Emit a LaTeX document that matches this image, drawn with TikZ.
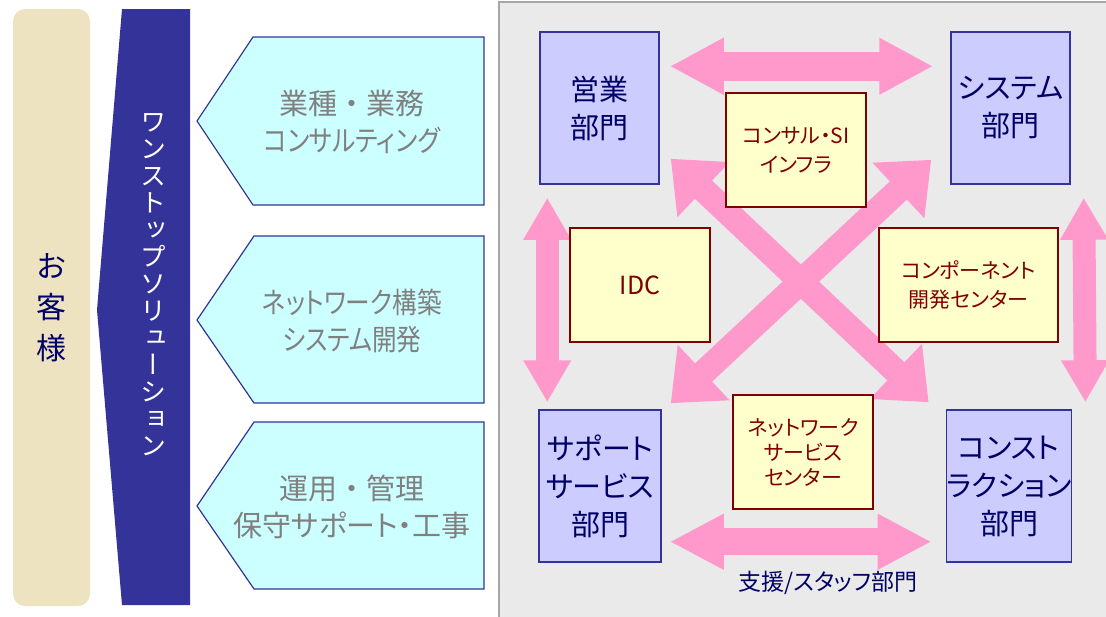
\documentclass[tikz,border=0pt]{standalone}
\usepackage{fontspec}
\setmainfont[RawFeature=+palt]{Noto Sans CJK JP}
\newfontfamily\vertfont[RawFeature=+vert]{Noto Sans CJK JP}
\newfontfamily\widefont{Noto Sans CJK JP}
\newfontfamily\narrowfont[RawFeature=+palt, FakeStretch=0.85]{Noto Sans CJK JP}
\usetikzlibrary{arrows.meta, calc}

\definecolor{beige}{HTML}{EEE3C1}
\definecolor{navy}{HTML}{333399}
\definecolor{svcfill}{HTML}{CCFFFF}
\definecolor{svctext}{HTML}{808080}
\definecolor{panelfill}{HTML}{EAEAEA}
\definecolor{panelline}{HTML}{A6A6A6}
\definecolor{deptfill}{HTML}{CCCCFF}
\definecolor{depttext}{HTML}{000066}
\definecolor{unitfill}{HTML}{FFFFCC}
\definecolor{unitline}{HTML}{800000}
\definecolor{pinkc}{HTML}{FF99CC}

\pgfdeclarelayer{panel}
\pgfdeclarelayer{arrows}
\pgfsetlayers{panel,arrows,main}

\begin{document}
\begin{tikzpicture}[
    x=1pt, y=-1pt,
    customer/.style={rectangle, rounded corners=12pt, fill=beige, minimum width=77pt, minimum height=597pt, inner sep=0pt, align=center, text=depttext, font=\fontsize{30}{41}\selectfont},
    soltext/.style={align=center, text=white, inner sep=0pt, font=\vertfont\fontsize{26}{27}\selectfont},
    service/.style={draw=navy, fill=svcfill, line width=1.2pt},
    servicetext/.style={align=center, text=svctext, font=\fontsize{29}{37}\selectfont},
    dept/.style={rectangle, draw=navy, fill=deptfill, line width=1.5pt, minimum width=119pt, minimum height=152pt, inner sep=0pt, align=center, text=depttext, font=\fontsize{29}{38}\selectfont},
    unitbox/.style={rectangle, draw=unitline, fill=unitfill, line width=1.5pt, minimum width=140pt, minimum height=114pt, inner sep=0pt, align=center, text=unitline, font=\fontsize{21}{29}\selectfont},
    bothway/.style n args={3}{draw=pinkc, line width=#1, {Triangle[length=#3,width=#2]}-{Triangle[length=#3,width=#2]}},
]
\useasboundingbox (0,0) rectangle (1106,616);

% customer column
\node[customer] (customer) at (51.5,307.5) {お\\客\\様};

% one-stop solution band
\fill[navy] (122,9) -- (190,9) -- (190,605) -- (122,605) -- (97,310) -- cycle;
\node[soltext] (solution) at (153,285) {ワ\\ン\\ス\\ト\\ッ\\プ\\ソ\\リ\\ュ\\ー\\シ\\ョ\\ン};

% service arrows
\draw[service] (197,121) -- (253,37) -- (484,37) -- (484,205) -- (253,205) -- cycle;
\node[servicetext] (consult) at (352,122) {{\widefont 業種・業務}\\{\narrowfont コンサルティング}};

\draw[service] (197,320) -- (254,236) -- (484,236) -- (484,403) -- (254,403) -- cycle;
\node[servicetext] (network) at (352,321) {{\narrowfont ネットワーク構築}\\{\narrowfont システム開発}};

\draw[service] (197,506) -- (254,422) -- (484,422) -- (484,589) -- (254,589) -- cycle;
\node[servicetext] (operation) at (352,507) {{\widefont 運用・管理}\\保守サポート・工事};

% organisation panel
\begin{pgfonlayer}{panel}
\filldraw[fill=panelfill, draw=panelline, line width=2pt] (499,2) rectangle (1112,622);
\end{pgfonlayer}

% departments
\node[dept] (sales) at (599.5,108) {営業\\部門};
\node[dept] (sysdept) at (1010.5,108) {システム\\部門};
\node[dept, minimum width=122pt] (support) at (600,486) {サポート\\サービス\\部門};
\node[dept, minimum width=122pt] (construct) at (1009,486) {コンスト\\ラクション\\部門};

% support units
\node[unitbox] (consulting) at (796,150) {コンサル・SI\\インフラ};
\node[unitbox, font=\fontsize{25}{29}\selectfont] (idc) at (640,285) {IDC};
\node[unitbox, minimum width=179pt] (component) at (968.5,285) {コンポーネント\\開発センター};
\node[unitbox, font=\fontsize{21}{25}\selectfont] (netcenter) at (803,452) {ネットワーク\\サービス\\センター};

\node[text=depttext, font=\fontsize{23}{26}\selectfont] (staff) at (828,583) {支援/スタッフ部門};

% pink arrows between departments
\begin{pgfonlayer}{arrows}
\draw[bothway={29pt}{53pt}{54pt}] ($(sales.north east)+(10,35)$) -- ($(sysdept.north west)+(-17,35)$);
\draw[bothway={27pt}{52pt}{54pt}] ($(support.south east)+(8,-21)$) -- ($(construct.south west)+(-14,-21)$);
\draw[bothway={23pt}{45pt}{42pt}] ($(sales.south west)+(8,13)$) -- ($(support.north west)+(9,-7)$);
\draw[bothway={23pt}{45pt}{42pt}] ($(sysdept.south east)+(13,13)$) -- ($(construct.north east)+(13,-7)$);
\draw[bothway={25pt}{73pt}{45pt}] ($(sales.south east)+(11,-26)$) -- ($(construct.north west)+(-17,-7)$);
\draw[bothway={25pt}{73pt}{45pt}] ($(sysdept.south west)+(-19,-25)$) -- ($(support.north east)+(9,-6)$);
\end{pgfonlayer}

\end{tikzpicture}
\end{document}
